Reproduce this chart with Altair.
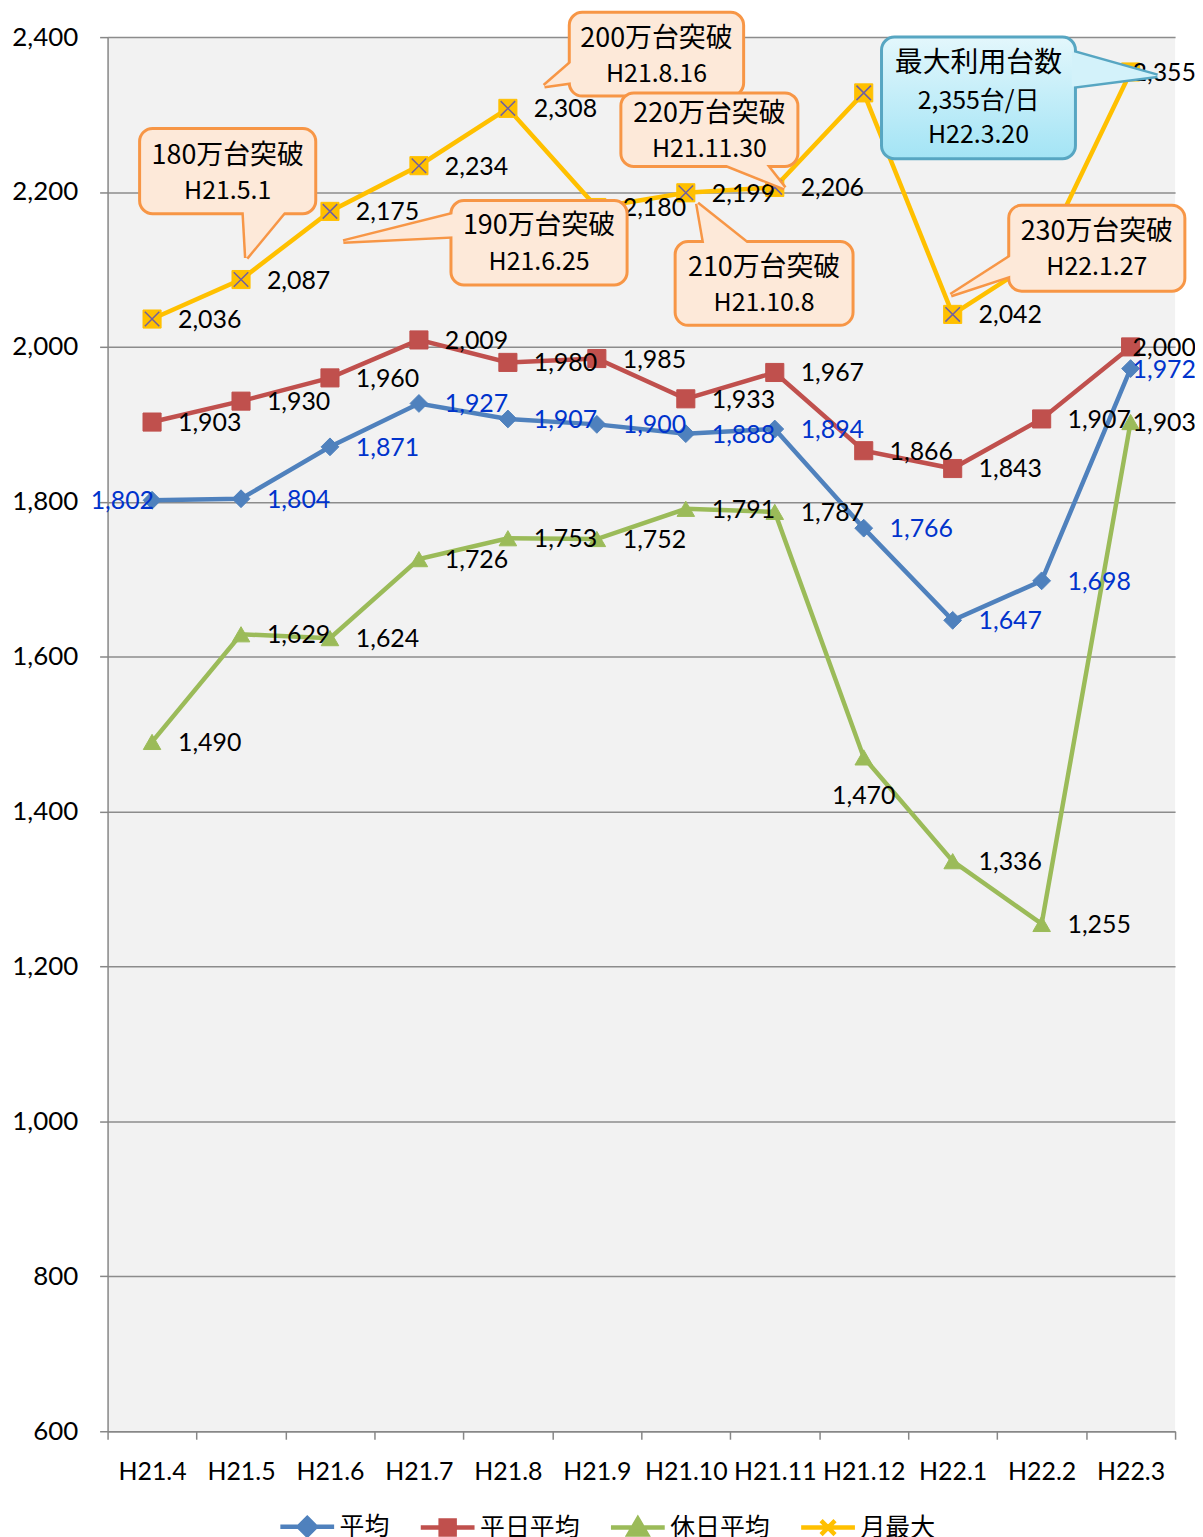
import json
import altair as alt
import pandas as pd

# ---------------- data ----------------
months = ["H21.4", "H21.5", "H21.6", "H21.7", "H21.8", "H21.9",
          "H21.10", "H21.11", "H21.12", "H22.1", "H22.2", "H22.3"]
series_names = ["平均", "平日平均", "休日平均", "月最大"]
avg_values = [1802, 1804, 1871, 1927, 1907, 1900, 1888, 1894, 1766, 1647, 1698, 1972]
weekday_values = [1903, 1930, 1960, 2009, 1980, 1985, 1933, 1967, 1866, 1843, 1907, 2000]
holiday_values = [1490, 1629, 1624, 1726, 1753, 1752, 1791, 1787, 1470, 1336, 1255, 1903]
max_values = [2036, 2087, 2175, 2234, 2308, 2180, 2199, 2206, 2328, 2042, 2116, 2355]
y_ticks = [600, 800, 1000, 1200, 1400, 1600, 1800, 2000, 2200, 2400]

colors = ["#4F81BD", "#C0504D", "#9BBB59", "#FFC000"]

# callout annotations (positions in data units: x = month slot, y = value)
callouts = [
    {"lines": ["180万台突破", "H21.5.1"], "box": [0.36, 2.34, 2282, 2172],
     "tip": [1.56, 2115], "base": [[1.53, 2176], [2.00, 2176]], "ty": [2246, 2201], "kind": "o"},
    {"lines": ["190万台突破", "H21.6.25"], "box": [3.86, 5.84, 2189, 2080],
     "tip": [2.65, 2136], "base": [[3.90, 2172], [3.90, 2143]], "ty": [2156, 2110], "kind": "o"},
    {"lines": ["200万台突破", "H21.8.16"], "box": [5.19, 7.15, 2432, 2324],
     "tip": [4.91, 2337], "base": [[5.23, 2369], [5.23, 2342]], "ty": [2397, 2352], "kind": "o"},
    {"lines": ["220万台突破", "H21.11.30"], "box": [5.77, 7.76, 2328, 2233],
     "tip": [7.61, 2205], "base": [[6.91, 2237], [7.39, 2237]], "ty": [2301, 2255], "kind": "o"},
    {"lines": ["210万台突破", "H21.10.8"], "box": [6.38, 8.38, 2136, 2028],
     "tip": [6.63, 2185], "base": [[6.71, 2132], [7.21, 2132]], "ty": [2102, 2057], "kind": "o"},
    {"lines": ["230万台突破", "H22.1.27"], "box": [10.13, 12.11, 2183, 2072],
     "tip": [9.48, 2067], "base": [[10.17, 2118], [10.17, 2093]], "ty": [2148, 2103], "kind": "o"},
    {"lines": ["最大利用台数", "2,355台/日", "H22.3.20"], "box": [8.70, 10.88, 2400, 2243],
     "tip": [11.80, 2350], "base": [[10.84, 2381], [10.84, 2336]], "ty": [2365, 2318, 2273], "kind": "b"},
]

# ---------------- tables ----------------
rows = []
for s, vals in zip(series_names, [avg_values, weekday_values, holiday_values, max_values]):
    for i, (m, v) in enumerate(zip(months, vals)):
        if s == "平均" and i == 0:
            place = "left"
        elif s == "休日平均" and m == "H21.12":
            place = "below"
        elif i == len(months) - 1:
            place = "end"
        else:
            place = "right"
        rows.append({"series": s, "month": m, "x": i + 0.5, "value": v,
                     "label": f"{v:,}", "place": place})
df = pd.DataFrame(rows)

box_rows, ptr_rows, txt_rows = [], [], []
for k, c in enumerate(callouts):
    x0, x1, yt, yb = c["box"]
    box_rows.append({"cid": k, "x0": x0, "x1": x1, "yt": yt, "yb": yb, "kind": c["kind"]})
    pts = [c["tip"], c["base"][0], c["base"][1], c["tip"]]
    for o, (px, py) in enumerate(pts):
        ptr_rows.append({"cid": k, "ord": o, "px": px, "py": py, "kind": c["kind"]})
    for j, (t, ty) in enumerate(zip(c["lines"], c["ty"])):
        txt_rows.append({"cid": k, "tx": (x0 + x1) / 2, "ty": ty, "text": t, "line": j,
                         "kind": c["kind"]})
boxes = pd.DataFrame(box_rows)
ptrs = pd.DataFrame(ptr_rows)
txts = pd.DataFrame(txt_rows)

# ---------------- scales & axes ----------------
W, H = 1072, 1400
x_scale = alt.Scale(domain=[0, 12], nice=False, zero=False)
y_scale = alt.Scale(domain=[600, 2400], nice=False, zero=False)
GRAY = "#878787"

label_expr = f"datum.value < 12 ? {json.dumps(months)}[datum.value] : ''"
x_axis = alt.Axis(values=list(range(13)), labelExpr=label_expr, labelOffset=W / 24,
                  tickSize=8, grid=False, title=None, labelFont="Lato", labelFontSize=25,
                  labelColor="black", domainColor=GRAY, tickColor=GRAY, domainWidth=1.5,
                  tickWidth=1.5, labelPadding=20, labelOverlap=False, labelFlush=False)
y_axis = alt.Axis(values=y_ticks, labelExpr="format(datum.value, ',')", tickSize=8, grid=True,
                  gridColor="#8C8C8C", gridWidth=1.5, title=None, labelFont="Lato",
                  labelFontSize=26, labelColor="black", domainColor=GRAY, tickColor=GRAY,
                  domainWidth=1.5, tickWidth=1.5, labelPadding=22, labelFlush=False,
                  labelOverlap=False)


def xe(field):
    return alt.X(field, scale=x_scale, axis=x_axis)


def ye(field):
    return alt.Y(field, scale=y_scale, axis=y_axis)


X = xe("x:Q")
Y = ye("value:Q")

base = alt.Chart(df)
layers = []

shapes = ["diamond", "square", "triangle-up", "square"]
sizes = [320, 330, 310, 330]
for s, c, shp, sz in zip(series_names, colors, shapes, sizes):
    sub = base.transform_filter(alt.datum.series == s)
    layers.append(sub.mark_line(color=c, strokeWidth=4.5).encode(x=X, y=Y))
    layers.append(sub.mark_point(shape=shp, size=sz, filled=True, color=c, opacity=1,
                                 stroke=c, strokeWidth=1).encode(x=X, y=Y))
    if s == "月最大":
        layers.append(sub.mark_point(shape="M-0.8,-0.8L0.8,0.8M0.8,-0.8L-0.8,0.8", size=330,
                                     filled=False, stroke="#7060A0", strokeWidth=1.5,
                                     opacity=1).encode(x=X, y=Y))

label_color = alt.condition(alt.datum.series == "平均", alt.value("#0033CC"), alt.value("black"))
placements = {
    "right": dict(align="left", dx=26, dy=1),
    "end": dict(align="left", dx=2, dy=1),
    "left": dict(align="right", dx=2, dy=1),
    "below": dict(align="center", dx=0, dy=39),
}
for p, kw in placements.items():
    layers.append(base.transform_filter(alt.datum.place == p).mark_text(
        baseline="middle", font="Lato", fontSize=25, **kw).encode(
        x=X, y=Y, text="label:N", color=label_color))

# legend carrier layer
legend_paths = [
    "M-1,0H1M0,-0.32L0.32,0L0,0.32L-0.32,0Z",
    "M-1,0H1M-0.26,-0.26H0.26V0.26H-0.26Z",
    "M-1,0H1M0,-0.32L0.34,0.26H-0.34Z",
    "M-1,0H1M-0.26,-0.26L0.26,0.26M0.26,-0.26L-0.26,0.26",
]
lg = dict(orient="none", legendX=171, legendY=1466, direction="horizontal", columns=4,
          title=None, labelFont="Noto Sans CJK JP", labelFontSize=25, labelColor="black",
          symbolSize=2916, symbolStrokeWidth=4.5, columnPadding=21, labelOffset=3,
          symbolOpacity=1, padding=0)
layers.append(base.mark_point(filled=True, opacity=0).encode(
    x=X, y=Y,
    fill=alt.Fill("series:N", scale=alt.Scale(domain=series_names, range=colors), legend=alt.Legend(**lg)),
    stroke=alt.Stroke("series:N", scale=alt.Scale(domain=series_names, range=colors), legend=alt.Legend(**lg)),
    shape=alt.Shape("series:N", scale=alt.Scale(domain=series_names, range=legend_paths), legend=alt.Legend(**lg)),
))

# callouts
PX, PY = xe("px:Q"), ye("py:Q")
BX, BY = xe("x0:Q"), ye("yt:Q")
styles = {
    "o": dict(fill="#FDE9D9", stroke="#F79646", pfill="#FDE9D9"),
    "b": dict(fill=alt.Gradient(gradient="linear", x1=0, x2=0, y1=0, y2=1,
                                stops=[alt.GradientStop(color="#E3F7FC", offset=0),
                                       alt.GradientStop(color="#A3E4F5", offset=1)]),
              stroke="#57A6C2", pfill="#D3F2FA"),
}
for kind, st in styles.items():
    pk = alt.Chart(ptrs).transform_filter(alt.datum.kind == kind)
    bk = alt.Chart(boxes).transform_filter(alt.datum.kind == kind)
    layers.append(pk.mark_line(fill=st["pfill"], stroke=st["stroke"], strokeWidth=5,
                               strokeJoin="miter").encode(x=PX, y=PY, order="ord:Q", detail="cid:N"))
    layers.append(bk.mark_rect(fill=st["fill"], stroke=st["stroke"], strokeWidth=3,
                               cornerRadius=13).encode(x=BX, x2="x1:Q", y=BY, y2="yb:Q"))
    layers.append(pk.mark_line(fill=st["pfill"], strokeOpacity=0).encode(
        x=PX, y=PY, order="ord:Q", detail="cid:N"))

TX, TY = xe("tx:Q"), ye("ty:Q")
text_styles = [
    ("datum.line == 0 && datum.kind == 'o'", 27),
    ("datum.line == 0 && datum.kind == 'b'", 28),
    ("datum.line > 0", 25),
]
for cond, fs in text_styles:
    layers.append(alt.Chart(txts).transform_filter(cond).mark_text(
        font="Noto Sans CJK JP", fontSize=fs, color="black", align="center", baseline="middle"
    ).encode(x=TX, y=TY, text="text:N"))

chart = alt.layer(*layers).properties(
    width=W, height=H,
    autosize=alt.AutoSizeParams(type="none"),
    padding={"left": 100, "top": 26, "right": 20, "bottom": 112},
    background="white",
).configure(font="Lato").configure_view(fill="#F2F2F2", strokeWidth=0)

chart.save("out.html", embed_options={"renderer": "svg", "actions": False})
